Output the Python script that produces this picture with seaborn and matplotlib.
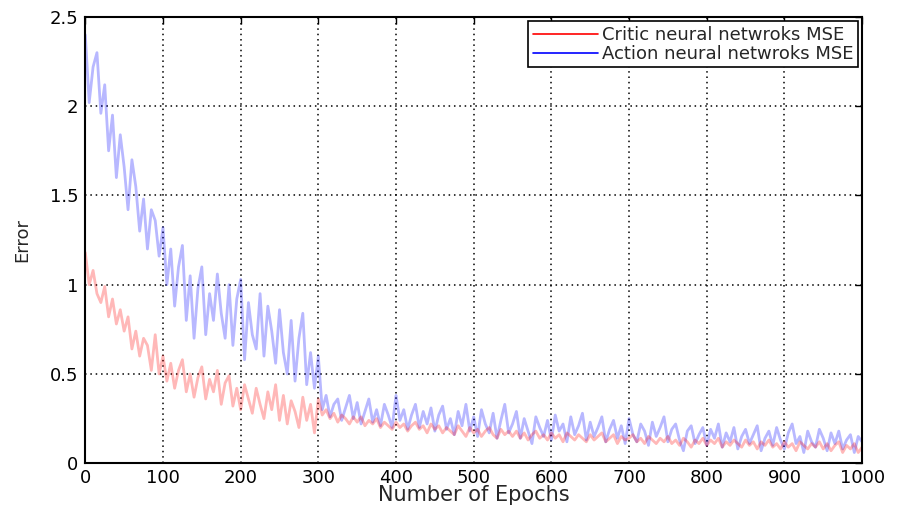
import numpy as np
import pandas as pd
import matplotlib
matplotlib.use("Agg")
import matplotlib.pyplot as plt
from matplotlib.lines import Line2D
from matplotlib.ticker import FormatStrFormatter
import seaborn as sns

# epochs sampled every 5 steps, 0..1000
epochs = list(range(0, 1001, 5))

# Action network MSE (blue)
action_mse = [
    2.40, 2.02, 2.22, 2.30, 1.96, 2.12, 1.75, 1.95, 1.60, 1.84,
    1.66, 1.42, 1.70, 1.55, 1.30, 1.48, 1.20, 1.42, 1.36, 1.16,
    1.32, 1.00, 1.20, 0.88, 1.10, 1.22, 0.80, 1.05, 0.70, 0.98,
    1.10, 0.72, 0.95, 0.80, 1.06, 0.84, 0.70, 1.00, 0.66, 0.92,
    1.03, 0.58, 0.90, 0.72, 0.64, 0.95, 0.60, 0.88, 0.74, 0.56,
    0.86, 0.62, 0.50, 0.80, 0.46, 0.70, 0.84, 0.44, 0.62, 0.42,
    0.60, 0.30, 0.38, 0.26, 0.33, 0.36, 0.24, 0.31, 0.38, 0.25,
    0.34, 0.22, 0.29, 0.36, 0.23, 0.30, 0.21, 0.33, 0.27, 0.20,
    0.38, 0.24, 0.30, 0.19, 0.27, 0.33, 0.20, 0.29, 0.22, 0.31,
    0.18, 0.27, 0.32, 0.19, 0.25, 0.16, 0.29, 0.21, 0.33, 0.18,
    0.26, 0.15, 0.30, 0.22, 0.17, 0.28, 0.14, 0.24, 0.33, 0.17,
    0.22, 0.29, 0.14, 0.25, 0.18, 0.11, 0.26, 0.20, 0.15, 0.24,
    0.13, 0.27, 0.18, 0.22, 0.12, 0.26, 0.16, 0.21, 0.28, 0.13,
    0.23, 0.15, 0.20, 0.26, 0.12, 0.19, 0.24, 0.14, 0.21, 0.11,
    0.25, 0.16, 0.12, 0.22, 0.18, 0.10, 0.23, 0.15, 0.20, 0.26,
    0.12, 0.19, 0.22, 0.13, 0.07, 0.18, 0.21, 0.11, 0.16, 0.20,
    0.10, 0.19, 0.14, 0.22, 0.09, 0.17, 0.12, 0.20, 0.08, 0.15,
    0.19, 0.11, 0.16, 0.21, 0.07, 0.14, 0.18, 0.10, 0.20, 0.13,
    0.08, 0.17, 0.22, 0.11, 0.15, 0.06, 0.18, 0.12, 0.09, 0.19,
    0.14, 0.07, 0.17, 0.11, 0.18, 0.08, 0.13, 0.16, 0.06, 0.15,
    0.12,
]

# Critic network MSE (red)
critic_mse = [
    1.18, 1.00, 1.08, 0.95, 0.90, 0.99, 0.82, 0.92, 0.78, 0.86,
    0.74, 0.82, 0.64, 0.74, 0.60, 0.70, 0.66, 0.52, 0.72, 0.50,
    0.60, 0.46, 0.56, 0.42, 0.52, 0.58, 0.40, 0.50, 0.37, 0.48,
    0.54, 0.36, 0.47, 0.40, 0.52, 0.33, 0.45, 0.49, 0.32, 0.42,
    0.30, 0.44, 0.36, 0.28, 0.42, 0.33, 0.25, 0.40, 0.30, 0.44,
    0.24, 0.38, 0.22, 0.35, 0.29, 0.20, 0.37, 0.24, 0.33, 0.17,
    0.36, 0.27, 0.30, 0.25, 0.28, 0.23, 0.27, 0.25, 0.22, 0.26,
    0.23, 0.26, 0.21, 0.24, 0.22, 0.25, 0.20, 0.23, 0.21, 0.19,
    0.23, 0.20, 0.22, 0.18, 0.21, 0.23, 0.19, 0.21, 0.17, 0.22,
    0.19, 0.21, 0.17, 0.20, 0.18, 0.16, 0.21, 0.18, 0.15, 0.20,
    0.17, 0.19, 0.15, 0.18, 0.20, 0.16, 0.14, 0.19, 0.16, 0.18,
    0.15, 0.18, 0.14, 0.17, 0.13, 0.16, 0.18, 0.14, 0.16, 0.13,
    0.17, 0.14, 0.16, 0.12, 0.17, 0.15, 0.13, 0.16, 0.14, 0.12,
    0.16, 0.13, 0.15, 0.17, 0.12, 0.14, 0.16, 0.11, 0.15, 0.13,
    0.14, 0.16, 0.12, 0.14, 0.11, 0.15, 0.13, 0.11, 0.14, 0.12,
    0.15, 0.11, 0.13, 0.10, 0.14, 0.12, 0.09, 0.13, 0.11, 0.14,
    0.10, 0.13, 0.11, 0.14, 0.09, 0.12, 0.10, 0.13, 0.11, 0.09,
    0.13, 0.10, 0.12, 0.08, 0.12, 0.10, 0.13, 0.09, 0.11, 0.08,
    0.12, 0.09, 0.11, 0.07, 0.12, 0.10, 0.08, 0.11, 0.09, 0.12,
    0.08, 0.11, 0.07, 0.10, 0.12, 0.06, 0.10, 0.08, 0.11, 0.06,
    0.09,
]

labels = ["Critic neural netwroks MSE", "Action neural netwroks MSE"]
colors = ["#ff0000", "#0000ff"]

df = pd.DataFrame({
    "epoch": epochs * 2,
    "mse": critic_mse + action_mse,
    "series": [labels[0]] * len(epochs) + [labels[1]] * len(epochs),
})

sns.set_style("white")
plt.rcParams["font.family"] = ["DejaVu Sans"]

fig = plt.figure(figsize=(8.98, 5.13), dpi=100)
ax = fig.add_axes([0.095, 0.097, 0.865, 0.870])

sns.lineplot(data=df[df.series == labels[1]], x="epoch", y="mse", color=colors[1],
             alpha=0.28, linewidth=2.0, ax=ax, legend=False)
sns.lineplot(data=df[df.series == labels[0]], x="epoch", y="mse", color=colors[0],
             alpha=0.28, linewidth=2.0, ax=ax, legend=False)

ax.set_xlim(0, 1000)
ax.set_ylim(0, 2.5)
ax.set_xticks(range(0, 1001, 100))
ax.set_yticks([0, 0.5, 1, 1.5, 2, 2.5])
ax.yaxis.set_major_formatter(FormatStrFormatter("%g"))
ax.grid(True, color="black", linestyle=(0, (1, 2.5)), linewidth=1.1)
ax.tick_params(direction="in", length=5, width=1, top=True, right=True,
               labelsize=13, colors="black")
ax.tick_params(axis="x", pad=4)
ax.tick_params(axis="y", pad=5)
for s in ax.spines.values():
    s.set_color("black")
    s.set_linewidth(1.5)

ax.set_xlabel("Number of Epochs", fontsize=15, labelpad=-1)
ax.set_ylabel("Error", fontsize=13, labelpad=13)

handles = [Line2D([0], [0], color=c, linewidth=1.2) for c in colors]
leg = ax.legend(handles, labels, loc="upper right", fontsize=13, frameon=True,
                fancybox=False, edgecolor="black", framealpha=1,
                borderaxespad=0.25, handlelength=3.6, handletextpad=0.2,
                borderpad=0.25, labelspacing=0.05)
leg.get_frame().set_linewidth(1.2)

fig.savefig("out.png", dpi=100)
